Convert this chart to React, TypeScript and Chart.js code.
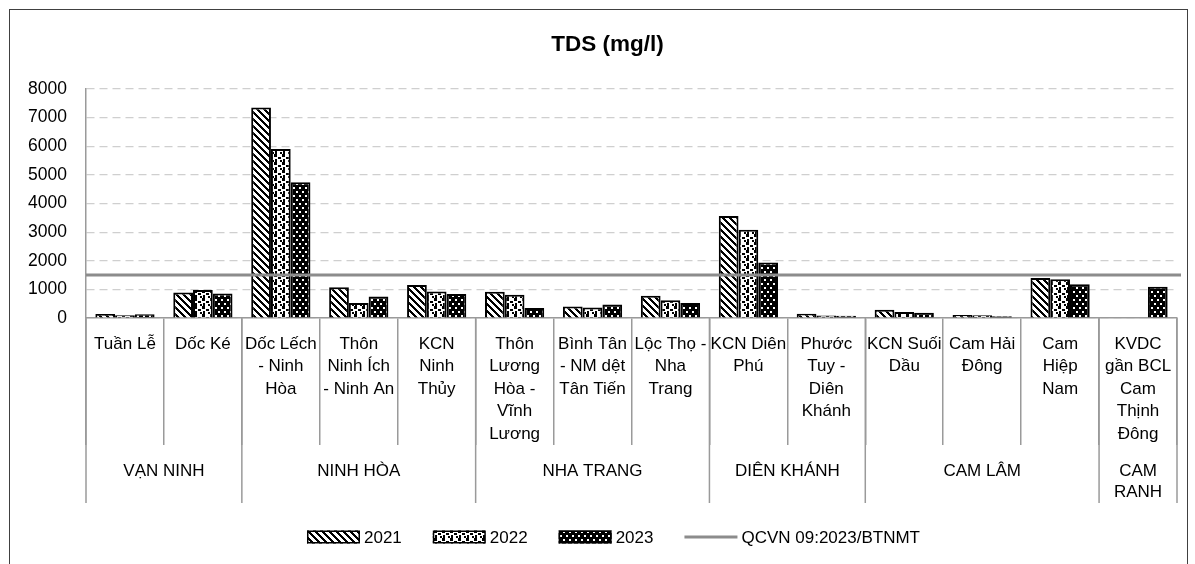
import React, { useEffect, useRef } from 'react';
import { Chart, registerables } from 'chart.js';

Chart.register(...registerables);

const FAMILY = '"Liberation Sans", Arial, sans-serif';

// ---- data ----
const categories: string[][] = [
  ['Tuần Lễ'],
  ['Dốc Ké'],
  ['Dốc Lếch', '- Ninh', 'Hòa'],
  ['Thôn', 'Ninh Ích', '- Ninh An'],
  ['KCN', 'Ninh', 'Thủy'],
  ['Thôn', 'Lương', 'Hòa -', 'Vĩnh', 'Lương'],
  ['Bình Tân', '- NM dệt', 'Tân Tiến'],
  ['Lộc Thọ -', 'Nha', 'Trang'],
  ['KCN Diên', 'Phú'],
  ['Phước', 'Tuy -', 'Diên', 'Khánh'],
  ['KCN Suối', 'Dầu'],
  ['Cam Hải', 'Đông'],
  ['Cam', 'Hiệp', 'Nam'],
  ['KVDC', 'gần BCL', 'Cam', 'Thịnh', 'Đông'],
];
const groups: string[][] = [['VẠN NINH'], ['NINH HÒA'], ['NHA TRANG'], ['DIÊN KHÁNH'], ['CAM LÂM'], ['CAM', 'RANH']];
const groupSizes = [2, 3, 3, 2, 3, 1];

const years = ['2021', '2022', '2023'];
const tds2021 = [140, 895, 7350, 1070, 1150, 920, 405, 780, 3560, 150, 290, 105, 1400, null];
const tds2022 = [100, 975, 5900, 525, 930, 815, 370, 620, 3085, 90, 210, 95, 1350, null];
const tds2023 = [130, 860, 4740, 755, 840, 350, 475, 525, 1940, 80, 185, 60, 1175, 1090];

const qcvnLabel = 'QCVN 09:2023/BTNMT';
const qcvnLimit = 1500;

const titleText = 'TDS (mg/l)';
const yMin = 0;
const yMax = 8000;
const yStep = 1000;

// ---- styles ----
const AXIS_GRAY = '#9a9a9a';
const QCVN_COLOR = '#8c8c8c';
const QCVN_WIDTH = 3;
const LABEL_FONT = `17px ${FAMILY}`;

// ---- patterns ----
function makePattern(kind: 'diag' | 'confetti' | 'dots'): CanvasPattern {
  const c = document.createElement('canvas');
  const ctx = c.getContext('2d')!;
  if (kind === 'diag') {
    const n = 7;
    c.width = n;
    c.height = n;
    ctx.fillStyle = '#fff';
    ctx.fillRect(0, 0, n, n);
    ctx.fillStyle = '#000';
    for (let y = 0; y < n; y++)
      for (let x = 0; x < n; x++) if ((((x - y) % n) + n) % n < 3) ctx.fillRect(x, y, 1, 1);
  } else if (kind === 'confetti') {
    c.width = 8;
    c.height = 8;
    ctx.fillStyle = '#fff';
    ctx.fillRect(0, 0, 8, 8);
    ctx.fillStyle = '#000';
    ctx.fillRect(0, 0, 3, 3);
    ctx.fillRect(4, 3, 3, 2);
    ctx.fillRect(1, 5, 2, 3);
    ctx.fillRect(6, 6, 2, 2);
  } else {
    c.width = 6;
    c.height = 8;
    ctx.fillStyle = '#000';
    ctx.fillRect(0, 0, 6, 8);
    ctx.fillStyle = '#fff';
    ctx.fillRect(1, 1, 2, 2);
    ctx.fillRect(4, 5, 2, 2);
  }
  return ctx.createPattern(c, 'repeat')!;
}

// Reference line (QCVN limit), positioned via the y scale
const qcvnPlugin = {
  id: 'qcvnLine',
  afterDatasetsDraw(chart: any) {
    const ctx = chart.ctx as CanvasRenderingContext2D;
    const y = chart.scales.y.getPixelForValue(qcvnLimit);
    const { left, right } = chart.chartArea;
    ctx.save();
    ctx.strokeStyle = QCVN_COLOR;
    ctx.lineWidth = QCVN_WIDTH;
    ctx.beginPath();
    ctx.moveTo(left, y);
    ctx.lineTo(right + 4, y);
    ctx.stroke();
    ctx.restore();
  },
};

const titlePlugin = {
  id: 'customTitle',
  afterDraw(chart: any) {
    const ctx = chart.ctx as CanvasRenderingContext2D;
    ctx.save();
    ctx.fillStyle = '#000';
    ctx.font = `bold 22.5px ${FAMILY}`;
    ctx.textAlign = 'center';
    ctx.textBaseline = 'middle';
    ctx.fillText(titleText, 597.5, 35);
    ctx.restore();
  },
};

const multiLevelAxisPlugin = {
  id: 'multiLevelAxis',
  afterDraw(chart: any) {
    const ctx = chart.ctx as CanvasRenderingContext2D;
    const xs = chart.scales.x;
    const base = chart.chartArea.bottom;
    ctx.save();
    ctx.fillStyle = '#000';
    ctx.textAlign = 'center';
    ctx.textBaseline = 'middle';
    ctx.font = LABEL_FONT;
    categories.forEach((lines, i) => {
      const cx = xs.getPixelForValue(i);
      lines.forEach((t, j) => ctx.fillText(t, cx, base + 26 + j * 22.5));
    });
    ctx.strokeStyle = AXIS_GRAY;
    ctx.lineWidth = 1.5;
    let start = 0;
    const bounds: number[] = [xs.getPixelForValue(-0.5)];
    groupSizes.forEach((n, g) => {
      const left = xs.getPixelForValue(start - 0.5);
      const right = xs.getPixelForValue(start + n - 0.5);
      bounds.push(right);
      const cx = (left + right) / 2;
      groups[g].forEach((t, j) => ctx.fillText(t, cx, base + 153.5 + j * 21));
      start += n;
    });
    bounds.forEach((bx) => {
      ctx.beginPath();
      ctx.moveTo(bx, base);
      ctx.lineTo(bx, base + 185);
      ctx.stroke();
    });
    ctx.restore();
  },
};

const legendPlugin = {
  id: 'customLegend',
  afterDraw(chart: any) {
    const ctx = chart.ctx as CanvasRenderingContext2D;
    const ds = chart.data.datasets as any[];
    const items = [
      ...ds.map((d) => ({ label: d.label as string, line: false, fill: d.backgroundColor })),
      { label: qcvnLabel, line: true, fill: QCVN_COLOR },
    ];
    const boxW = 53;
    const boxH = 13;
    const gap = 4;
    const spacing = 31;
    const cy = 527;
    const centerX = 603.5;
    ctx.save();
    ctx.font = LABEL_FONT;
    ctx.textBaseline = 'middle';
    ctx.textAlign = 'left';
    const widths = items.map((it) => boxW + gap + ctx.measureText(it.label).width);
    const total = widths.reduce((a, b) => a + b, 0) + spacing * (items.length - 1);
    let x = centerX - total / 2;
    items.forEach((it, i) => {
      if (it.line) {
        ctx.strokeStyle = it.fill;
        ctx.lineWidth = QCVN_WIDTH;
        ctx.beginPath();
        ctx.moveTo(x, cy);
        ctx.lineTo(x + boxW, cy);
        ctx.stroke();
      } else {
        ctx.fillStyle = it.fill;
        ctx.fillRect(x, cy - boxH / 2, boxW, boxH);
        ctx.strokeStyle = '#000';
        ctx.lineWidth = 1.5;
        ctx.strokeRect(x + 0.75, cy - boxH / 2 + 0.75, boxW - 1.5, boxH - 1.5);
      }
      ctx.fillStyle = '#000';
      ctx.fillText(it.label, x + boxW + gap, cy + 1);
      x += widths[i] + spacing;
    });
    ctx.restore();
  },
};

export default function App() {
  const canvasRef = useRef<HTMLCanvasElement | null>(null);

  useEffect(() => {
    document.documentElement.style.overflow = 'hidden';
    document.body.style.overflow = 'hidden';
    const canvas = canvasRef.current;
    if (!canvas) return;
    const patterns = [makePattern('diag'), makePattern('confetti'), makePattern('dots')];
    const series = [tds2021, tds2022, tds2023];

    const chart = new Chart(canvas, {
      type: 'bar',
      data: {
        labels: categories.map((c) => c.join(' ')),
        datasets: years.map((y, i) => ({
          label: y,
          data: series[i],
          backgroundColor: patterns[i],
          borderColor: '#000',
          borderWidth: 2,
          categoryPercentage: 0.76,
          barPercentage: 1,
        })),
      },
      options: {
        animation: false,
        responsive: true,
        maintainAspectRatio: false,
        events: [],
        layout: { padding: { left: 10, right: 10, top: 79, bottom: 52 } },
        plugins: {
          legend: { display: false },
          tooltip: { enabled: false },
          title: { display: false },
        },
        scales: {
          x: {
            type: 'category',
            position: 'bottom',
            offset: true,
            grid: {
              display: true,
              offset: true,
              drawOnChartArea: false,
              drawTicks: true,
              tickLength: 127,
              color: AXIS_GRAY,
              lineWidth: 1.5,
            },
            border: { display: true, color: AXIS_GRAY, width: 1.5 },
            ticks: { display: false },
            afterFit: (s: any) => {
              s.height = 200;
            },
          },
          y: {
            type: 'linear',
            min: yMin,
            max: yMax,
            ticks: {
              stepSize: yStep,
              color: '#000',
              padding: 19,
              font: { family: FAMILY, size: 17.5 },
              callback: (v: any) => `${v}`,
            },
            grid: { color: '#cfcfcf', lineWidth: 1.2, drawTicks: false },
            border: { display: true, color: AXIS_GRAY, width: 1.5, dash: [8, 5] },
            afterFit: (s: any) => {
              s.width = 66;
            },
          },
        },
      } as any,
      plugins: [qcvnPlugin, multiLevelAxisPlugin, legendPlugin, titlePlugin],
    });
    return () => chart.destroy();
  }, []);

  return (
    <div
      style={{
        position: 'absolute',
        left: 9,
        top: 9,
        width: 1179,
        height: 555,
        overflow: 'hidden',
      }}
    >
      <div
        style={{
          width: 1177,
          height: 560,
          border: '1px solid #404040',
          position: 'relative',
        }}
      >
        <canvas ref={canvasRef} />
      </div>
    </div>
  );
}
